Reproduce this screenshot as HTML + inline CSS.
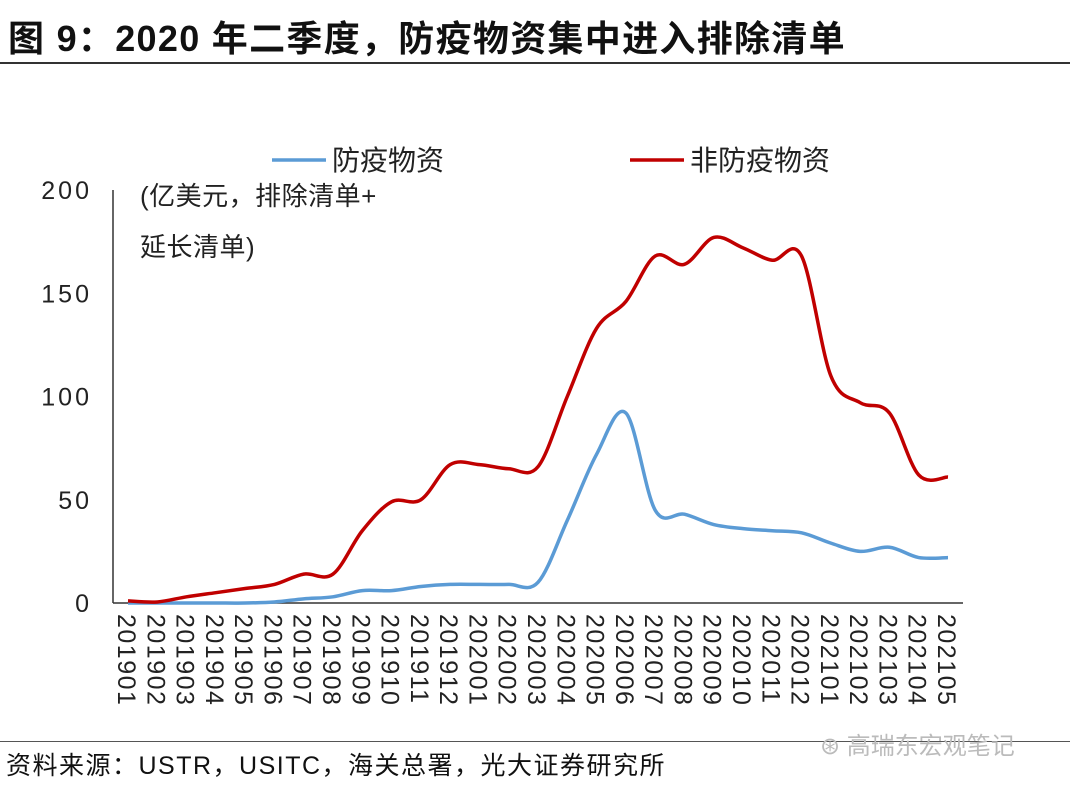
<!DOCTYPE html>
<html><head><meta charset="utf-8">
<style>
html,body{margin:0;padding:0;background:#fff;}
body{width:1080px;height:788px;overflow:hidden;position:relative;font-family:"Liberation Sans","Noto Sans CJK SC",sans-serif;}
#title{position:absolute;left:8px;top:10px;font-size:36px;font-weight:bold;color:#111;letter-spacing:1.3px;}
#topline{position:absolute;left:0;top:62px;width:1070px;height:2px;background:#333;}
#botline{position:absolute;left:0;top:741px;width:1070px;height:1px;background:#555;}
#source{position:absolute;left:6px;top:746px;font-size:25px;color:#111;letter-spacing:1.5px;}
#wm{position:absolute;left:820px;top:726px;font-size:24px;color:#bbb;}
svg{position:absolute;left:0;top:0;}
</style></head><body>
<div id="title">图 9：2020 年二季度，防疫物资集中进入排除清单</div>
<div id="topline"></div>
<svg id="chart" width="1080" height="788"></svg>
<div id="botline"></div>
<div id="source">资料来源：USTR，USITC，海关总署，光大证券研究所</div>
<div id="wm">⊛ 高瑞东宏观笔记</div>
<script>
const categories=["201901","201902","201903","201904","201905","201906","201907","201908","201909","201910","201911","201912","202001","202002","202003","202004","202005","202006","202007","202008","202009","202010","202011","202012","202101","202102","202103","202104","202105"];
const epidemicValues=[0,0,0,0,0,0.5,2,3,6,6,8,9,9,9,10,40,72,92,45,43,38,36,35,34,29,25,27,22,22];
const nonEpidemicValues=[1,0.5,3,5,7,9,14,14,35,49,50,67,67,65,66,100,133,146,168,164,177,172,166,168,110,97,92,62,61];
const yTicks=[0,50,100,150,200];
const NS="http://www.w3.org/2000/svg";
const svg=document.getElementById('chart');
const x0=128,xStep=(948-128)/28,yBase=603,yTop=190;
const xs=i=>x0+i*xStep;
const ys=v=>yBase-(v/200)*(yBase-yTop);
function mk(t,a){const e=document.createElementNS(NS,t);for(const k in a)e.setAttribute(k,a[k]);svg.appendChild(e);return e;}
yTicks.forEach(v=>{
 const t=mk('text',{x:92,y:ys(v)+9,'text-anchor':'end','font-size':25,'letter-spacing':3,fill:'#222'});
 t.textContent=v;
 
 
});
const ax=mk('line',{x1:113,y1:yBase,x2:963,y2:yBase,stroke:'#333','stroke-width':1.5});


const yax=mk('line',{x1:113,y1:yTop,x2:113,y2:yBase,stroke:'#333','stroke-width':1.5});


categories.forEach((c,i)=>{
 const t=mk('text',{transform:`translate(${xs(i)-10},${614}) rotate(90)`,'font-size':25,'letter-spacing':1.5,fill:'#222'});
 t.textContent=c;
 
 
});
function smooth(vals){
 const p=vals.map((v,i)=>[xs(i),ys(v)]);
 let d=`M${p[0][0]},${p[0][1]}`;
 for(let i=0;i<p.length-1;i++){
  const a=p[i-1]||p[i],b=p[i],c=p[i+1],e=p[i+2]||c;
  const c1=[b[0]+(c[0]-a[0])/6,b[1]+(c[1]-a[1])/6],c2=[c[0]-(e[0]-b[0])/6,c[1]-(e[1]-b[1])/6];
  d+=` C${c1[0]},${c1[1]} ${c2[0]},${c2[1]} ${c[0]},${c[1]}`;
 }
 return d;
}
const l1=mk('path',{d:smooth(epidemicValues),fill:'none',stroke:'#5B9BD5','stroke-width':3.5});


const l2=mk('path',{d:smooth(nonEpidemicValues),fill:'none',stroke:'#C00000','stroke-width':3.5});


const lg1=mk('line',{x1:272,y1:160,x2:326,y2:160,stroke:'#5B9BD5','stroke-width':3.5});


const lt1=mk('text',{x:332,y:170,'font-size':28,fill:'#222'});lt1.textContent='防疫物资';


const lg2=mk('line',{x1:630,y1:160,x2:684,y2:160,stroke:'#C00000','stroke-width':3.5});


const lt2=mk('text',{x:690,y:170,'font-size':28,fill:'#222'});lt2.textContent='非防疫物资';


const u1=mk('text',{x:140,y:205,'font-size':26,'letter-spacing':0.5,fill:'#222'});u1.textContent='(亿美元，排除清单+';


const u2=mk('text',{x:140,y:256,'font-size':26,'letter-spacing':0.5,fill:'#222'});u2.textContent='延长清单)';


</script>
</body></html>
